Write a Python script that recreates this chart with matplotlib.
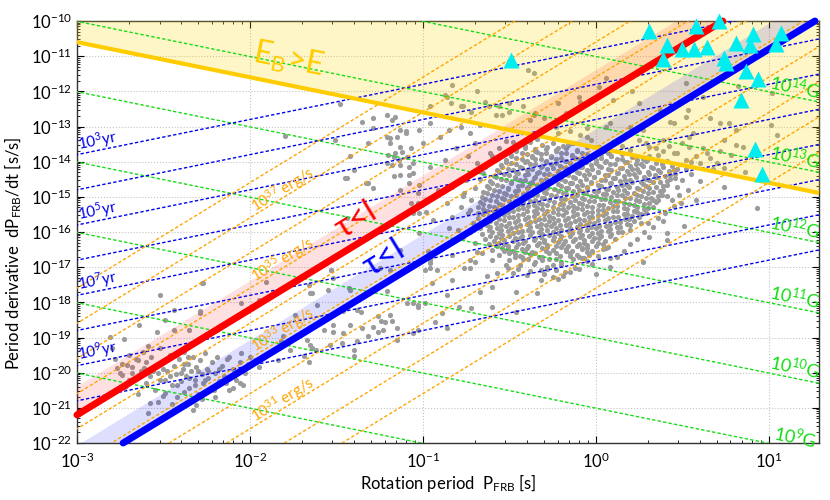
import numpy as np
import matplotlib
matplotlib.use('Agg')
import matplotlib.pyplot as plt
from matplotlib.ticker import LogLocator, NullFormatter

plt.rcParams['font.family'] = ['Lato', 'DejaVu Sans']
plt.rcParams['mathtext.fontset'] = 'custom'
plt.rcParams['mathtext.rm'] = 'Lato'
plt.rcParams['mathtext.it'] = 'Lato:italic'
plt.rcParams['mathtext.bf'] = 'Lato:bold'

# ---- data (log10 P [s], log10 Pdot [s/s]) ----
# magnetars
mag_logp = [-0.49, 0.31, 0.41, 0.39, 0.50, 0.58, 0.57, 0.64, 0.71, 0.74, 0.75,
            0.81, 0.91, 0.89, 0.87, 0.94, 0.84, 1.07, 1.04, 0.92, 0.96]
mag_logpdot = [-11.11, -10.28, -10.68, -11.09, -10.80, -10.14, -10.80, -10.73, -10.00, -11.06, -11.20,
               -10.62, -10.38, -10.68, -11.41, -11.66, -12.26, -10.35, -10.66, -13.64, -14.35]

# millisecond pulsars
msp_pts = [
    (-2.81, -18.99), (-2.73, -19.04), (-2.64, -18.64), (-2.54, -18.83), (-2.44, -18.78), (-2.35, -18.78),
    (-2.49, -18.50), (-2.29, -18.26), (-2.05, -18.02), (-2.52, -17.78), (-2.27, -17.45), (-2.44, -18.21),
    (-2.59, -19.25), (-2.78, -19.60), (-2.74, -19.75), (-2.70, -19.50), (-2.68, -19.85), (-2.66, -19.62),
    (-2.63, -19.95), (-2.62, -19.40), (-2.60, -19.70), (-2.58, -20.10), (-2.57, -19.55), (-2.55, -19.85),
    (-2.53, -20.00), (-2.52, -19.30), (-2.50, -19.70), (-2.49, -20.20), (-2.48, -19.95), (-2.46, -19.50),
    (-2.45, -20.35), (-2.44, -19.80), (-2.43, -20.05), (-2.41, -19.60), (-2.40, -20.25), (-2.39, -19.90),
    (-2.38, -19.40), (-2.37, -20.10), (-2.36, -19.75), (-2.35, -20.45), (-2.34, -19.95), (-2.33, -19.55),
    (-2.32, -20.20), (-2.31, -19.85), (-2.30, -20.60), (-2.29, -19.65), (-2.28, -20.05), (-2.27, -20.30),
    (-2.26, -19.45), (-2.25, -19.90), (-2.24, -20.15), (-2.22, -19.70), (-2.21, -20.40), (-2.20, -20.00),
    (-2.19, -19.55), (-2.18, -20.25), (-2.16, -19.80), (-2.15, -20.10), (-2.13, -19.60), (-2.12, -20.50),
    (-2.10, -19.90), (-2.08, -20.20), (-2.06, -19.70), (-2.05, -19.45), (-2.03, -20.00), (-2.01, -19.75),
    (-2.00, -19.55), (-1.97, -19.65), (-1.95, -19.85), (-2.60, -20.30), (-2.55, -20.50), (-2.50, -20.65),
    (-2.65, -20.60), (-2.70, -20.20), (-2.45, -20.90), (-2.42, -20.70), (-2.38, -20.55), (-2.58, -20.85),
    (-2.33, -21.05), (-2.28, -20.75), (-2.20, -20.70), (-2.10, -20.45), (-2.04, -20.35), (-2.75, -20.00),
    (-2.80, -19.30), (-2.72, -20.40), (-2.77, -19.87), (-2.71, -19.77), (-2.65, -19.63), (-2.74, -20.06),
    (-2.68, -20.01), (-2.61, -19.87), (-2.06, -20.29), (-2.59, -21.15), (-2.53, -20.82), (-2.31, -20.91),
    (-2.49, -20.58), (-2.21, -20.49), (-2.12, -19.55), (-1.96, -19.63),
    (-2.40, -20.00), (-2.35, -20.15), (-2.30, -19.95), (-2.26, -20.20), (-2.42, -20.35), (-2.46, -20.10),
    (-2.50, -19.90), (-2.38, -19.75), (-2.32, -20.35), (-2.24, -19.95), (-2.18, -19.90), (-2.14, -20.30),
    (-2.52, -20.20), (-2.56, -19.95), (-2.48, -19.60), (-2.36, -19.55),
]

# sparse pulsars between the MSPs and the main group
mid_pts = [
    (-1.53, -17.07), (-1.65, -17.74), (-1.55, -17.64), (-1.42, -17.64), (-1.21, -17.69), (-1.61, -18.07),
    (-1.46, -18.26), (-1.38, -18.21), (-1.26, -18.40), (-1.19, -18.35), (-1.24, -18.54), (-1.18, -18.54),
    (-1.15, -18.73), (-1.35, -18.73), (-1.57, -18.78), (-1.52, -18.83), (-1.42, -18.64), (-1.82, -19.11),
    (-1.65, -19.20), (-1.54, -19.20), (-1.47, -19.16), (-1.38, -19.11), (-1.32, -18.97), (-1.23, -18.78),
    (-1.15, -19.06), (-1.77, -19.35), (-1.69, -19.54), (-1.62, -19.35), (-1.40, -19.54), (-1.84, -19.63),
    (-1.81, -18.97), (-1.74, -18.35), (-1.95, -17.93), (-1.91, -17.41), (-1.43, -17.59), (-1.36, -18.27),
    (-1.29, -18.69), (-1.22, -18.55), (-1.03, -18.13), (-1.26, -18.84), (-1.03, -18.78), (-1.67, -19.06),
    (-1.64, -19.29), (-1.40, -19.35), (-1.52, -18.64), (-1.46, -18.86), (-1.66, -19.69), (-2.28, -17.44),
    (-2.29, -18.30), (-0.96, -17.02), (-0.83, -17.36), (-0.73, -17.02), (-0.67, -17.70), (-0.60, -17.56),
    (-0.46, -17.70), (-0.34, -17.73), (-0.86, -17.78), (-0.79, -18.13), (-0.72, -18.15), (-0.60, -18.13),
    (-0.46, -18.27), (-0.86, -18.72), (-0.93, -18.55), (-1.06, -18.01), (-0.99, -18.01), (-0.25, -17.27),
    (-0.15, -17.13), (-0.08, -16.73), (0.08, -16.73), (0.08, -16.99), (0.27, -16.85), (0.41, -16.22),
    (-0.96, -16.79), (-0.83, -16.65), (-0.60, -16.79), (-0.57, -17.16), (-0.31, -16.79), (-0.25, -16.93),
    (-0.43, -16.70), (-0.69, -16.56), (-0.40, -17.22), (-0.32, -17.36), (-0.51, -17.02), (-0.76, -17.02),
    (-0.23, -17.07), (-0.08, -16.45), (0.06, -16.45), (-0.95, -17.44), (-0.89, -18.30), (-1.06, -18.86),
    (-1.45, -14.47), (-1.33, -14.61), (-1.08, -14.38), (-1.07, -15.18), (-1.02, -15.46), (-0.98, -15.42),
    (-0.97, -16.55), (-0.95, -16.69), (-0.99, -17.07), (-0.92, -17.07), (-1.53, -17.07), (-1.66, -17.50),
    (-1.52, -17.31), (-1.42, -17.64), (-1.25, -17.03), (-1.64, -17.74), (-1.09, -18.02), (-1.03, -18.07),
]

# young pulsars above/left of the main group
young_pts = [
    (-1.48, -12.36), (-1.80, -13.27), (-1.35, -12.87), (-1.29, -12.76), (-1.21, -12.67), (-1.16, -12.73),
    (-1.29, -13.04), (-1.32, -13.47), (-1.42, -13.84), (-1.40, -14.23), (-1.44, -14.46), (-1.32, -14.60),
    (-1.51, -13.38), (-1.21, -13.30), (-1.15, -13.30), (-1.10, -13.18), (-1.19, -13.47), (-1.13, -13.58),
    (-1.20, -13.81), (-1.17, -13.86), (-1.12, -13.72), (-1.09, -13.86), (-1.21, -14.03), (-1.18, -14.09),
    (-1.14, -13.95), (-1.06, -14.03), (-1.13, -14.38), (-1.08, -14.60), (-1.03, -14.89), (-1.18, -12.81),
    (-1.29, -14.74), (-1.44, -15.60), (-1.03, -15.17), (-1.13, -13.10), (-1.19, -13.33), (-1.10, -13.14),
    (-1.02, -13.10), (-0.96, -12.91), (-0.90, -13.29), (-1.00, -13.48), (-1.07, -13.62), (-1.16, -13.76),
    (-0.85, -13.10), (-0.78, -13.00), (-0.73, -13.19), (-0.67, -12.95), (-0.70, -13.48), (-0.81, -13.62),
    (-0.74, -13.85), (-0.87, -13.95), (-0.96, -14.14), (-1.06, -14.33), (-1.13, -14.09), (-1.17, -14.42),
    (-0.69, -14.04), (-0.61, -13.76), (-0.65, -14.33), (-0.75, -14.52), (-0.83, -14.71), (-0.91, -14.80),
    (-1.02, -14.66), (-1.08, -14.14), (-0.98, -15.09), (-0.86, -15.18), (-0.77, -14.99), (-1.13, -14.80),
    (-1.06, -15.46), (-0.94, -15.65), (-0.83, -15.56), (-0.73, -15.37), (-0.85, -15.89), (-0.77, -16.13),
    (-1.02, -16.03), (-0.96, -16.88), (-1.13, -16.51), (-1.19, -17.07), (-0.73, -16.79), (-0.63, -17.26),
    (-0.48, -17.17), (-0.32, -17.07), (-0.19, -17.26), (-0.83, -11.82), (-0.69, -11.98), (-0.87, -12.10),
    (-0.84, -12.32), (-0.78, -12.43), (-0.96, -12.42), (-0.64, -12.29), (-0.62, -12.42), (-0.72, -12.58),
    (-0.50, -12.34), (-0.54, -12.67), (-0.35, -12.62), (-0.10, -12.17), (-0.86, -12.15), (-0.77, -12.43),
]

# high-field pulsars to the upper right (inside E_B > E region) and right edge of the group
high_pts = [
    (-0.39, -11.39), (-0.36, -11.49), (0.02, -11.87), (0.06, -11.63), (-0.09, -12.29), (-0.22, -12.34),
    (0.25, -12.34), (0.52, -11.77), (0.53, -12.53), (0.62, -12.15), (0.82, -11.86), (1.02, -12.05),
    (0.66, -12.76), (0.72, -12.91), (0.43, -12.86), (0.35, -12.76), (0.20, -13.00), (0.27, -13.10),
    (0.54, -13.29), (0.81, -13.10), (1.01, -12.95), (0.81, -13.52), (0.85, -13.57), (0.72, -13.71),
    (0.64, -13.76), (0.54, -13.57), (0.47, -13.76), (0.39, -13.71), (0.31, -13.85), (0.60, -14.04),
    (0.74, -14.19), (0.50, -13.47), (0.74, -13.38), (-0.56, -12.43), (-0.58, -12.67), (-0.50, -12.58),
    (-0.42, -12.43), (-0.36, -12.67), (-0.30, -12.76), (-0.23, -13.00), (-0.15, -13.14), (-0.09, -13.24),
    (-0.03, -13.38), (0.06, -13.00), (0.12, -13.38), (-0.15, -13.48), (0.20, -13.66), (0.08, -13.71),
    (0.02, -13.57), (0.25, -13.38), (0.31, -13.57), (0.93, -15.32), (0.51, -15.84), (0.39, -15.70),
    (0.41, -16.03), (0.31, -16.13), (0.74, -14.71), (1.05, -13.24), (0.77, -12.91), (0.60, -14.56),
    (0.50, -14.52), (0.47, -14.71), (0.58, -15.08), (0.49, -15.18), (0.33, -15.09), (0.41, -14.99),
    (-0.38, -12.81), (-0.22, -13.19), (-0.17, -12.62), (0.10, -12.24), (0.21, -12.00), (0.37, -12.53),
    (0.45, -12.91), (0.52, -12.72), (0.56, -13.19), (-0.05, -13.05), (0.08, -12.91), (0.20, -13.19),
    (0.29, -13.48), (0.39, -13.38), (0.45, -13.76), (0.52, -13.95), (0.15, -13.55), (0.35, -13.62),
    (0.42, -13.55), (0.58, -13.85), (0.66, -13.90), (0.70, -14.05), (0.36, -13.80), (0.10, -13.45),
    (-0.05, -13.30), (0.55, -14.02), (0.62, -13.62), (0.78, -13.80), (0.68, -14.20), (0.86, -14.30),
]

# stragglers around the edge of the main group
edge_pts = [
    (0.48, -14.95), (0.45, -15.25), (0.40, -15.45), (0.36, -15.60), (0.33, -15.85), (0.28, -16.00),
    (0.24, -16.20), (0.20, -16.35), (0.16, -16.55), (0.12, -16.70), (0.53, -14.80), (0.55, -14.35),
    (0.52, -14.20), (0.44, -15.10), (0.30, -15.75), (-0.30, -17.20), (-0.22, -17.35), (-0.10, -17.05),
    (-0.02, -16.90), (-0.45, -17.05), (-0.52, -16.95), (0.00, -17.20), (-0.72, -15.10), (-0.74, -15.45),
    (-0.71, -15.75), (-0.73, -16.00), (-0.70, -16.30), (-0.66, -16.60), (-0.70, -14.75), (-0.67, -14.50),
    (-0.64, -14.15), (-0.60, -13.85), (-0.56, -13.60), (-0.52, -13.40), (-0.78, -15.30), (-0.80, -15.95),
    (-0.76, -14.90), (-0.70, -16.85), (-0.48, -13.45), (-0.40, -13.38), (-0.34, -13.35),
]

# dense main pulsar group, read row by row
blob_pts = [
    (-0.44, -13.50), (-0.38, -13.45), (-0.31, -13.54), (-0.25, -13.48), (-0.19, -13.56), (-0.13, -13.46),
    (-0.46, -13.65), (-0.41, -13.60), (-0.35, -13.69), (-0.29, -13.63), (-0.23, -13.71), (-0.17, -13.61),
    (-0.11, -13.67), (-0.05, -13.59), (0.01, -13.70),
    (-0.49, -13.80), (-0.43, -13.75), (-0.37, -13.84), (-0.32, -13.78), (-0.26, -13.86), (-0.20, -13.76),
    (-0.14, -13.82), (-0.08, -13.74), (-0.03, -13.85), (0.03, -13.79), (0.09, -13.83), (0.15, -13.77),
    (-0.52, -13.95), (-0.46, -13.90), (-0.40, -13.99), (-0.35, -13.93), (-0.29, -14.01), (-0.23, -13.91),
    (-0.17, -13.97), (-0.12, -13.89), (-0.06, -14.00), (0.00, -13.94), (0.06, -13.98), (0.12, -13.92),
    (0.18, -14.02), (0.24, -13.96), (0.30, -13.91),
    (-0.55, -14.10), (-0.49, -14.05), (-0.44, -14.14), (-0.38, -14.08), (-0.32, -14.16), (-0.26, -14.06),
    (-0.21, -14.12), (-0.15, -14.04), (-0.09, -14.15), (-0.03, -14.09), (0.02, -14.13), (0.08, -14.07),
    (0.14, -14.17), (0.20, -14.11), (0.26, -14.06), (0.32, -14.14), (0.38, -14.08), (0.44, -14.12),
    (-0.57, -14.25), (-0.51, -14.20), (-0.46, -14.29), (-0.40, -14.23), (-0.34, -14.31), (-0.28, -14.21),
    (-0.22, -14.27), (-0.17, -14.19), (-0.11, -14.30), (-0.05, -14.24), (0.01, -14.28), (0.07, -14.22),
    (0.12, -14.32), (0.18, -14.26), (0.24, -14.21), (0.30, -14.29), (0.36, -14.23), (0.42, -14.27),
    (0.47, -14.20),
    (-0.59, -14.40), (-0.53, -14.35), (-0.47, -14.44), (-0.41, -14.38), (-0.36, -14.46), (-0.30, -14.36),
    (-0.24, -14.42), (-0.18, -14.34), (-0.13, -14.45), (-0.07, -14.39), (-0.01, -14.43), (0.05, -14.37),
    (0.10, -14.47), (0.16, -14.41), (0.22, -14.36), (0.28, -14.44), (0.34, -14.38), (0.40, -14.42),
    (0.46, -14.35),
    (-0.61, -14.55), (-0.55, -14.50), (-0.49, -14.59), (-0.44, -14.53), (-0.38, -14.61), (-0.32, -14.51),
    (-0.26, -14.57), (-0.20, -14.49), (-0.15, -14.60), (-0.09, -14.54), (-0.03, -14.58), (0.03, -14.52),
    (0.08, -14.62), (0.14, -14.56), (0.20, -14.51), (0.26, -14.59), (0.31, -14.53), (0.37, -14.57),
    (0.43, -14.50),
    (-0.63, -14.70), (-0.57, -14.65), (-0.51, -14.74), (-0.45, -14.68), (-0.40, -14.76), (-0.34, -14.66),
    (-0.28, -14.72), (-0.22, -14.64), (-0.17, -14.75), (-0.11, -14.69), (-0.05, -14.73), (0.01, -14.67),
    (0.06, -14.77), (0.12, -14.71), (0.18, -14.66), (0.24, -14.74), (0.29, -14.68), (0.35, -14.72),
    (0.41, -14.65),
    (-0.65, -14.85), (-0.59, -14.80), (-0.53, -14.89), (-0.47, -14.83), (-0.42, -14.91), (-0.36, -14.81),
    (-0.30, -14.87), (-0.24, -14.79), (-0.19, -14.90), (-0.13, -14.84), (-0.07, -14.88), (-0.01, -14.82),
    (0.04, -14.92), (0.10, -14.86), (0.16, -14.81), (0.22, -14.89), (0.27, -14.83), (0.33, -14.87),
    (0.39, -14.80),
    (-0.66, -15.00), (-0.60, -14.95), (-0.54, -15.04), (-0.49, -14.98), (-0.43, -15.06), (-0.37, -14.96),
    (-0.31, -15.02), (-0.26, -14.94), (-0.20, -15.05), (-0.14, -14.99), (-0.08, -15.03), (-0.03, -14.97),
    (0.03, -15.07), (0.09, -15.01), (0.15, -14.96), (0.20, -15.04), (0.26, -14.98), (0.32, -15.02),
    (0.38, -14.95),
    (-0.67, -15.15), (-0.61, -15.10), (-0.56, -15.19), (-0.50, -15.13), (-0.44, -15.21), (-0.38, -15.11),
    (-0.33, -15.17), (-0.27, -15.09), (-0.21, -15.20), (-0.15, -15.14), (-0.10, -15.18), (-0.04, -15.12),
    (0.02, -15.22), (0.08, -15.16), (0.13, -15.11), (0.19, -15.19), (0.25, -15.13), (0.31, -15.17),
    (0.36, -15.10),
    (-0.68, -15.30), (-0.62, -15.25), (-0.57, -15.34), (-0.51, -15.28), (-0.45, -15.36), (-0.39, -15.26),
    (-0.34, -15.32), (-0.28, -15.24), (-0.22, -15.35), (-0.16, -15.29), (-0.11, -15.33), (-0.05, -15.27),
    (0.01, -15.37), (0.07, -15.31), (0.12, -15.26), (0.18, -15.34), (0.24, -15.28), (0.30, -15.32),
    (-0.68, -15.45), (-0.63, -15.40), (-0.57, -15.49), (-0.51, -15.43), (-0.45, -15.51), (-0.40, -15.41),
    (-0.34, -15.47), (-0.28, -15.39), (-0.22, -15.50), (-0.17, -15.44), (-0.11, -15.48), (-0.05, -15.42),
    (0.01, -15.52), (0.06, -15.46), (0.12, -15.41), (0.18, -15.49), (0.24, -15.43), (0.29, -15.47),
    (-0.68, -15.60), (-0.62, -15.55), (-0.56, -15.64), (-0.50, -15.58), (-0.45, -15.66), (-0.39, -15.56),
    (-0.33, -15.62), (-0.27, -15.54), (-0.22, -15.65), (-0.16, -15.59), (-0.10, -15.63), (-0.04, -15.57),
    (0.01, -15.67), (0.07, -15.61), (0.13, -15.56), (0.19, -15.64), (0.25, -15.58),
    (-0.67, -15.75), (-0.61, -15.70), (-0.55, -15.79), (-0.50, -15.73), (-0.44, -15.81), (-0.38, -15.71),
    (-0.32, -15.77), (-0.27, -15.69), (-0.21, -15.80), (-0.15, -15.74), (-0.09, -15.78), (-0.04, -15.72),
    (0.02, -15.82), (0.08, -15.76), (0.14, -15.71), (0.20, -15.79), (0.26, -15.73),
    (-0.67, -15.90), (-0.61, -15.85), (-0.55, -15.94), (-0.49, -15.88), (-0.43, -15.96), (-0.38, -15.86),
    (-0.32, -15.92), (-0.26, -15.84), (-0.20, -15.95), (-0.15, -15.89), (-0.09, -15.93), (-0.03, -15.87),
    (0.03, -15.97), (0.08, -15.91), (0.14, -15.86), (0.20, -15.94),
    (-0.66, -16.05), (-0.60, -16.00), (-0.54, -16.09), (-0.48, -16.03), (-0.43, -16.11), (-0.37, -16.01),
    (-0.31, -16.07), (-0.25, -15.99), (-0.20, -16.10), (-0.14, -16.04), (-0.08, -16.08), (-0.02, -16.02),
    (0.03, -16.12), (0.09, -16.06), (0.15, -16.01),
    (-0.64, -16.20), (-0.58, -16.15), (-0.53, -16.24), (-0.47, -16.18), (-0.41, -16.26), (-0.35, -16.16),
    (-0.30, -16.22), (-0.24, -16.14), (-0.18, -16.25), (-0.12, -16.19), (-0.07, -16.23), (-0.01, -16.17),
    (0.05, -16.27), (0.11, -16.21),
    (-0.62, -16.35), (-0.56, -16.30), (-0.51, -16.39), (-0.45, -16.33), (-0.39, -16.41), (-0.33, -16.31),
    (-0.28, -16.37), (-0.22, -16.29), (-0.16, -16.40), (-0.10, -16.34), (-0.05, -16.38), (0.01, -16.32),
    (0.07, -16.42),
    (-0.60, -16.50), (-0.54, -16.45), (-0.48, -16.54), (-0.43, -16.48), (-0.37, -16.56), (-0.31, -16.46),
    (-0.25, -16.52), (-0.20, -16.44), (-0.14, -16.55), (-0.08, -16.49), (-0.02, -16.53), (0.04, -16.47),
    (-0.56, -16.65), (-0.50, -16.60), (-0.44, -16.69), (-0.38, -16.63), (-0.33, -16.71), (-0.27, -16.61),
    (-0.21, -16.67), (-0.15, -16.59), (-0.10, -16.70), (-0.04, -16.64), (0.01, -16.68),
    (-0.50, -16.80), (-0.42, -16.76), (-0.35, -16.85), (-0.27, -16.78), (-0.20, -16.86), (-0.13, -16.77),
    (-0.05, -16.83),
    (-0.44, -16.95), (-0.36, -16.91), (-0.28, -17.00), (-0.20, -16.93), (-0.12, -17.01),
    (-0.38, -17.10), (-0.28, -17.06), (-0.18, -17.14),
]

# the same group, the dots that sit between the rows above
blob_fill_pts = [
    (-0.41, -13.55), (-0.35, -13.63), (-0.28, -13.57), (-0.22, -13.61), (-0.16, -13.53),
    (-0.46, -13.70), (-0.40, -13.78), (-0.34, -13.72), (-0.29, -13.76), (-0.23, -13.68), (-0.17, -13.74),
    (-0.11, -13.69), (-0.05, -13.79), (0.01, -13.71), (0.07, -13.75),
    (-0.49, -13.85), (-0.43, -13.93), (-0.37, -13.87), (-0.32, -13.91), (-0.26, -13.83), (-0.20, -13.89),
    (-0.14, -13.84), (-0.09, -13.94), (-0.03, -13.86), (0.03, -13.90), (0.09, -13.85), (0.15, -13.93),
    (0.21, -13.87), (0.27, -13.91),
    (-0.52, -14.00), (-0.46, -14.08), (-0.41, -14.02), (-0.35, -14.06), (-0.29, -13.98), (-0.23, -14.04),
    (-0.18, -13.99), (-0.12, -14.09), (-0.06, -14.01), (0.00, -14.05), (0.05, -14.00), (0.11, -14.08),
    (0.17, -14.02), (0.23, -14.06), (0.29, -13.98), (0.35, -14.04), (0.41, -13.99),
    (-0.54, -14.15), (-0.48, -14.23), (-0.43, -14.17), (-0.37, -14.21), (-0.31, -14.13), (-0.25, -14.19),
    (-0.20, -14.14), (-0.14, -14.24), (-0.08, -14.16), (-0.02, -14.20), (0.03, -14.15), (0.09, -14.23),
    (0.15, -14.17), (0.21, -14.21), (0.27, -14.13), (0.33, -14.19), (0.39, -14.14), (0.45, -14.24),
    (-0.56, -14.30), (-0.50, -14.38), (-0.45, -14.32), (-0.39, -14.36), (-0.33, -14.28), (-0.27, -14.34),
    (-0.22, -14.29), (-0.16, -14.39), (-0.10, -14.31), (-0.04, -14.35), (0.01, -14.30), (0.07, -14.38),
    (0.13, -14.32), (0.19, -14.36), (0.25, -14.28), (0.31, -14.34), (0.37, -14.29), (0.43, -14.39),
    (-0.58, -14.45), (-0.52, -14.53), (-0.47, -14.47), (-0.41, -14.51), (-0.35, -14.43), (-0.29, -14.49),
    (-0.24, -14.44), (-0.18, -14.54), (-0.12, -14.46), (-0.06, -14.50), (-0.01, -14.45), (0.05, -14.53),
    (0.11, -14.47), (0.17, -14.51), (0.23, -14.43), (0.29, -14.49), (0.35, -14.44), (0.41, -14.54),
    (0.46, -14.46),
    (-0.60, -14.60), (-0.54, -14.68), (-0.49, -14.62), (-0.43, -14.66), (-0.37, -14.58), (-0.31, -14.64),
    (-0.26, -14.59), (-0.20, -14.69), (-0.14, -14.61), (-0.08, -14.65), (-0.03, -14.60), (0.03, -14.68),
    (0.09, -14.62), (0.15, -14.66), (0.21, -14.58), (0.27, -14.64), (0.33, -14.59), (0.39, -14.69),
    (-0.62, -14.75), (-0.56, -14.83), (-0.51, -14.77), (-0.45, -14.81), (-0.39, -14.73), (-0.33, -14.79),
    (-0.28, -14.74), (-0.22, -14.84), (-0.16, -14.76), (-0.10, -14.80), (-0.05, -14.75), (0.01, -14.83),
    (0.07, -14.77), (0.13, -14.81), (0.19, -14.73), (0.25, -14.79), (0.31, -14.74), (0.37, -14.84),
    (-0.63, -14.90), (-0.57, -14.98), (-0.52, -14.92), (-0.46, -14.96), (-0.40, -14.88), (-0.34, -14.94),
    (-0.29, -14.89), (-0.23, -14.99), (-0.17, -14.91), (-0.11, -14.95), (-0.06, -14.90), (0.00, -14.98),
    (0.06, -14.92), (0.12, -14.96), (0.18, -14.88), (0.24, -14.94), (0.30, -14.89), (0.36, -14.99),
    (-0.64, -15.05), (-0.58, -15.13), (-0.53, -15.07), (-0.47, -15.11), (-0.41, -15.03), (-0.35, -15.09),
    (-0.30, -15.04), (-0.24, -15.14), (-0.18, -15.06), (-0.12, -15.10), (-0.07, -15.05), (-0.01, -15.13),
    (0.05, -15.07), (0.11, -15.11), (0.17, -15.03), (0.23, -15.09), (0.29, -15.04), (0.35, -15.14),
    (-0.65, -15.20), (-0.59, -15.28), (-0.54, -15.22), (-0.48, -15.26), (-0.42, -15.18), (-0.36, -15.24),
    (-0.31, -15.19), (-0.25, -15.29), (-0.19, -15.21), (-0.13, -15.25), (-0.08, -15.20), (-0.02, -15.28),
    (0.04, -15.22), (0.10, -15.26), (0.16, -15.18), (0.22, -15.24), (0.28, -15.19), (0.33, -15.29),
    (-0.65, -15.35), (-0.59, -15.43), (-0.54, -15.37), (-0.48, -15.41), (-0.42, -15.33), (-0.36, -15.39),
    (-0.31, -15.34), (-0.25, -15.44), (-0.19, -15.36), (-0.13, -15.40), (-0.08, -15.35), (-0.02, -15.43),
    (0.04, -15.37), (0.10, -15.41), (0.16, -15.33), (0.22, -15.39), (0.28, -15.34),
    (-0.65, -15.50), (-0.59, -15.58), (-0.53, -15.52), (-0.48, -15.56), (-0.42, -15.48), (-0.36, -15.54),
    (-0.30, -15.49), (-0.25, -15.59), (-0.19, -15.51), (-0.13, -15.55), (-0.07, -15.50), (-0.02, -15.58),
    (0.04, -15.52), (0.10, -15.56), (0.16, -15.48), (0.21, -15.54), (0.26, -15.49),
    (-0.64, -15.65), (-0.58, -15.73), (-0.53, -15.67), (-0.47, -15.71), (-0.41, -15.63), (-0.35, -15.69),
    (-0.30, -15.64), (-0.24, -15.74), (-0.18, -15.66), (-0.12, -15.70), (-0.07, -15.65), (-0.01, -15.73),
    (0.05, -15.67), (0.11, -15.71), (0.17, -15.63), (0.22, -15.69),
    (-0.63, -15.80), (-0.57, -15.88), (-0.52, -15.82), (-0.46, -15.86), (-0.40, -15.78), (-0.34, -15.84),
    (-0.29, -15.79), (-0.23, -15.89), (-0.17, -15.81), (-0.11, -15.85), (-0.06, -15.80), (0.00, -15.88),
    (0.06, -15.82), (0.12, -15.86), (0.18, -15.78),
    (-0.62, -15.95), (-0.56, -16.03), (-0.51, -15.97), (-0.45, -16.01), (-0.39, -15.93), (-0.33, -15.99),
    (-0.28, -15.94), (-0.22, -16.04), (-0.16, -15.96), (-0.10, -16.00), (-0.05, -15.95), (0.01, -16.03),
    (0.07, -15.97), (0.13, -16.01),
    (-0.61, -16.10), (-0.55, -16.18), (-0.50, -16.12), (-0.44, -16.16), (-0.38, -16.08), (-0.32, -16.14),
    (-0.27, -16.09), (-0.21, -16.19), (-0.15, -16.11), (-0.09, -16.15), (-0.04, -16.10), (0.02, -16.18),
    (0.08, -16.12),
    (-0.59, -16.25), (-0.53, -16.33), (-0.48, -16.27), (-0.42, -16.31), (-0.36, -16.23), (-0.30, -16.29),
    (-0.25, -16.24), (-0.19, -16.34), (-0.13, -16.26), (-0.07, -16.30), (-0.02, -16.25), (0.04, -16.33),
    (-0.57, -16.40), (-0.51, -16.48), (-0.46, -16.42), (-0.40, -16.46), (-0.34, -16.38), (-0.28, -16.44),
    (-0.23, -16.39), (-0.17, -16.49), (-0.11, -16.41), (-0.05, -16.45), (0.00, -16.40),
    (-0.53, -16.55), (-0.47, -16.63), (-0.41, -16.57), (-0.35, -16.61), (-0.29, -16.53), (-0.23, -16.59),
    (-0.17, -16.54), (-0.11, -16.64), (-0.05, -16.56),
    (-0.47, -16.70), (-0.39, -16.78), (-0.31, -16.72), (-0.23, -16.76), (-0.15, -16.68), (-0.07, -16.74),
]

# guide line levels
b_levels = [1e8, 1e9, 1e10, 1e11, 1e12, 1e13, 1e14]           # G
age_levels = [1e3, 1e4, 1e5, 1e6, 1e7, 1e8, 1e9, 1e10]        # yr
edot_levels = [1e29, 1e30, 1e31, 1e32, 1e33, 1e34, 1e35, 1e36, 1e37, 1e38]  # erg/s
b_labels = [9, 10, 11, 12, 13, 14]
age_labels = [3, 5, 7, 9]
edot_labels = [31, 33, 35, 37]

# thick lines: log10 Pdot at P = 1 s (slope 3), band widths in decades
red_logc, red_band = -12.2, 0.8
blue_logc, blue_band = -13.8, 0.72
# E_B > E boundary: log10(P * Pdot)
eb_logc = -13.6

# ---- figure ----
W, H = 830, 500
ax_px = (77, 57, 742, 422)
xlog = (-3.0, 1.29)
ylog = (-22.0, -10.0)
fig = plt.figure(figsize=(W / 100, H / 100), dpi=100)
ax = fig.add_axes([ax_px[0] / W, ax_px[1] / H, ax_px[2] / W, ax_px[3] / H])
ax.set_xscale('log')
ax.set_yscale('log')
ax.set_xlim(10 ** xlog[0], 10 ** xlog[1])
ax.set_ylim(10 ** ylog[0], 10 ** ylog[1])

sx = ax_px[2] / (xlog[1] - xlog[0])
sy = ax_px[3] / (ylog[1] - ylog[0])


def ang(slope):
    return np.degrees(np.arctan(slope * sy / sx))


P = np.logspace(-3.2, 1.5, 50)

# points
pts = np.array(msp_pts + mid_pts + young_pts + high_pts + edge_pts + blob_pts + blob_fill_pts)
ax.scatter(10 ** pts[:, 0], 10 ** pts[:, 1], s=14, color='#9b9b9b', lw=0, zorder=2)

# E_B > E region
yb = 10 ** eb_logc / P
ax.fill_between(P, yb, 1e-8, color='#FFD700', alpha=0.22, lw=0, zorder=3)

# bands
red_y = 10 ** red_logc * P ** 3
blue_y = 10 ** blue_logc * P ** 3
ax.fill_between(P, red_y, red_y * 10 ** red_band, color='red', alpha=0.12, lw=0, zorder=3)
ax.fill_between(P, blue_y, blue_y * 10 ** blue_band, color='blue', alpha=0.13, lw=0, zorder=3)

dash = dict(lw=1.0, dashes=(2.4, 1.6), zorder=4)
for B in b_levels:
    ax.plot(P, (B / 3.2e19) ** 2 / P, color='#11dd11', **dash)
for t in age_levels:
    ax.plot(P, P / (2 * t * 3.156e7), color='#0000ee', **dash)
for e in edot_levels:
    ax.plot(P, e * P ** 3 / (4 * np.pi ** 2 * 1e45), color='#ffa500', **dash)

ax.plot(P, yb, color='#FFCC00', lw=3, zorder=5)

# thick lines with round ends
pr = np.logspace(xlog[0], (ylog[1] - red_logc) / 3, 50)
ax.plot(pr, 10 ** red_logc * pr ** 3, color='#ff0000', lw=5, solid_capstyle='round',
        clip_on=False, zorder=6)
pb = np.logspace((ylog[0] - blue_logc) / 3, (ylog[1] - blue_logc) / 3, 50)
ax.plot(pb, 10 ** blue_logc * pb ** 3, color='#0000ff', lw=5, solid_capstyle='round',
        clip_on=False, zorder=6)

ax.plot(10 ** np.array(mag_logp), 10 ** np.array(mag_logpdot), '^', color='#00eef0',
        ms=12, mec='none', clip_on=False, zorder=8)

# labels on the guide lines
for k, yl in zip(b_labels, [-21.82, -19.83, -17.84, -15.85, -13.86, -11.875]):
    ax.text(10 ** 1.15, 10 ** yl, r'$\mathregular{10^{%d}}$G' % k, color='#11dd11', fontsize=13,
            rotation=ang(-1), rotation_mode='anchor', ha='center', va='center', zorder=7)
for k, yl in zip(age_labels, [-13.41, -15.40, -17.39, -19.38]):
    ax.text(10 ** -2.884, 10 ** yl, r'$\mathregular{10^{%d}}$yr' % k, color='#0000ee', fontsize=11,
            rotation=ang(1), rotation_mode='anchor', ha='center', va='center', zorder=7)
for k, yl in zip(edot_labels, [-20.77, -18.78, -16.79, -14.80]):
    ax.text(10 ** -1.809, 10 ** yl, r'$\mathregular{10^{%d}}$ erg/s' % k, color='#ffa500', fontsize=11,
            rotation=ang(3), rotation_mode='anchor', ha='center', va='center', zorder=7)

ax.text(10 ** -1.78, 10 ** -11.11, r'E$_{\mathregular{B}}$>E', color='#FFCC00', fontsize=23,
        rotation=ang(-1), rotation_mode='anchor', ha='center', va='center', zorder=7)
ax.text(10 ** -1.387, 10 ** -15.65, 'τ<l', color='#ff0000', fontsize=24,
        rotation=ang(3), rotation_mode='anchor', ha='center', va='center', zorder=7)
ax.text(10 ** -1.225, 10 ** -16.73, 'τ<l', color='#0000ff', fontsize=24,
        rotation=ang(3), rotation_mode='anchor', ha='center', va='center', zorder=7)

# axes cosmetics
ax.yaxis.set_major_locator(LogLocator(base=10, numticks=30))
ax.yaxis.set_minor_locator(LogLocator(base=10, subs=np.arange(2, 10), numticks=100))
ax.yaxis.set_minor_formatter(NullFormatter())
ax.grid(True, which='major', color='#c4c4c4', ls=':', lw=0.8, zorder=1)
ax.set_axisbelow(True)
ax.tick_params(which='both', direction='in', top=True, right=True, labelsize=12)
ax.tick_params(axis='x', which='major', pad=6)
ax.tick_params(which='major', length=5)
ax.tick_params(which='minor', length=2.5)
for s in ax.spines.values():
    s.set_linewidth(1.0)
    s.set_color('#333333')
ax.set_xlabel(r'Rotation period  P$_{\mathregular{FRB}}$ [s]', fontsize=12, labelpad=1)
ax.set_ylabel(r'Period derivative  dP$_{\mathregular{FRB}}$/dt [s/s]', fontsize=12, va='center')
ax.yaxis.set_label_coords(-0.086, 0.45)

fig.savefig('out.png', dpi=100)
